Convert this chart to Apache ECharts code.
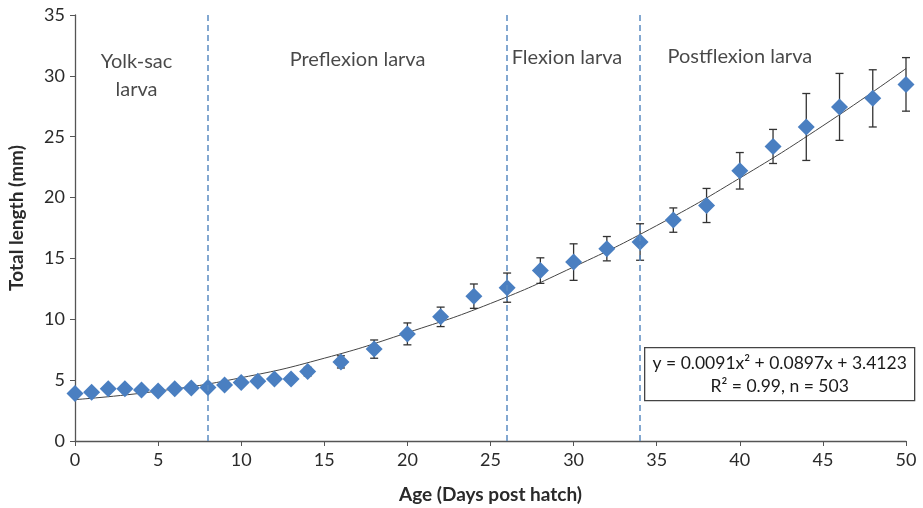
<!DOCTYPE html>
<html>
<head>
<meta charset="utf-8">
<script src="https://cdn.jsdelivr.net/npm/echarts@6/dist/echarts.min.js"></script>
<style>
  html, body { margin: 0; padding: 0; background: #fff; }
  #chart { width: 923px; height: 508px; }
</style>
</head>
<body>
<div id="chart"></div>
<script>
// ages (days post hatch)
const days = [0, 1, 2, 3, 4, 5, 6, 7, 8, 9, 10, 11, 12, 13, 14, 16, 18, 20, 22, 24, 26, 28, 30, 32, 34, 36, 38, 40, 42, 44, 46, 48, 50];
// mean total length (mm)
const lengthMean = [3.9, 4.0, 4.3, 4.3, 4.2, 4.1, 4.3, 4.35, 4.4, 4.6, 4.8, 4.9, 5.1, 5.1, 5.7, 6.5, 7.55, 8.8, 10.2, 11.9, 12.6, 14.0, 14.7, 15.8, 16.35, 18.15, 19.35, 22.2, 24.2, 25.8, 27.45, 28.15, 29.3];
// standard deviation (error bars)
const lengthSD = [0.15, 0.15, 0.15, 0.15, 0.15, 0.15, 0.15, 0.15, 0.2, 0.2, 0.2, 0.2, 0.25, 0.25, 0.35, 0.5, 0.75, 0.9, 0.8, 1.0, 1.2, 1.05, 1.5, 1.0, 1.5, 1.0, 1.4, 1.5, 1.4, 2.75, 2.75, 2.35, 2.2];
// fitted curve
const fitDays = [0, 5, 10, 15, 20, 25, 30, 35, 40, 45, 50];
const fitLength = [3.4, 4.1, 5.2, 6.8, 8.9, 11.3, 14.3, 17.7, 21.6, 25.9, 30.6];
// stage boundaries and labels
const stageBounds = [8, 26, 34];
const stageNames = ['Yolk-sac\nlarva', 'Preflexion larva', 'Flexion larva', 'Postflexion larva'];
const stageLabelX = [3.7, 17, 29.6, 40];
const stageLabelY = [30.0, 31.3, 31.5, 31.6];
const yTicks = [0, 5, 10, 15, 20, 25, 30, 35];
const xTicks = [0, 5, 10, 15, 20, 25, 30, 35, 40, 45, 50];

const FONT = 'Lato';
const chart = echarts.init(document.getElementById('chart'));

const points = days.map((d, i) => [d, lengthMean[i]]);
const errData = days.map((d, i) => [d, lengthMean[i] - lengthSD[i], lengthMean[i] + lengthSD[i]]);
const fitData = fitDays.map((d, i) => [d, fitLength[i]]);
const labelData = stageNames.map((n, i) => ({ value: [stageLabelX[i], stageLabelY[i]], name: n }));

const option = {
  animation: false,
  textStyle: { fontFamily: FONT },
  grid: { left: 75, right: 17, top: 15, bottom: 67, containLabel: false, outerBoundsMode: 'none' },
  xAxis: {
    type: 'value',
    min: xTicks[0], max: xTicks[xTicks.length - 1], interval: 5,
    name: 'Age (Days post hatch)',
    nameLocation: 'middle', nameGap: 44,
    nameTextStyle: { fontFamily: FONT, fontSize: 19, fontWeight: 'bold', color: '#2a2a2a' },
    axisLine: { lineStyle: { color: '#555', width: 1.3 } },
    axisTick: { show: true, length: 5, lineStyle: { color: '#555' } },
    axisLabel: { fontFamily: FONT, fontSize: 18, color: '#2a2a2a', margin: 10 },
    splitLine: { show: false }
  },
  yAxis: {
    type: 'value',
    min: yTicks[0], max: yTicks[yTicks.length - 1], interval: 5,
    name: 'Total length (mm)',
    nameLocation: 'middle', nameGap: 49, nameRotate: 90,
    nameTextStyle: { fontFamily: FONT, fontSize: 19, fontWeight: 'bold', color: '#2a2a2a', padding: [0, 0, 0, 20] },
    axisLine: { show: true, lineStyle: { color: '#555', width: 1.3 } },
    axisTick: { show: true, length: 5, lineStyle: { color: '#555' } },
    axisLabel: { fontFamily: FONT, fontSize: 18, color: '#2a2a2a', margin: 10 },
    splitLine: { show: false }
  },
  series: [
    {
      type: 'line',
      data: fitData,
      smooth: true,
      symbol: 'none',
      lineStyle: { color: '#444', width: 1 },
      z: 2,
      markLine: {
        silent: true,
        symbol: 'none',
        label: { show: false },
        lineStyle: { color: '#5b8cc2', width: 1.5, type: [6, 4] },
        data: stageBounds.map(b => ({ xAxis: b }))
      }
    },
    {
      type: 'custom',
      data: errData,
      z: 3,
      renderItem: function (params, api) {
        const x = api.value(0);
        const lo = api.coord([x, api.value(1)]);
        const hi = api.coord([x, api.value(2)]);
        const cap = 4;
        const style = { stroke: '#333', lineWidth: 1.3 };
        return {
          type: 'group',
          children: [
            { type: 'line', shape: { x1: hi[0], y1: hi[1], x2: lo[0], y2: lo[1] }, style: style },
            { type: 'line', shape: { x1: hi[0] - cap, y1: hi[1], x2: hi[0] + cap, y2: hi[1] }, style: style },
            { type: 'line', shape: { x1: lo[0] - cap, y1: lo[1], x2: lo[0] + cap, y2: lo[1] }, style: style }
          ]
        };
      }
    },
    {
      type: 'scatter',
      data: points,
      symbol: 'diamond',
      symbolSize: [17, 17],
      itemStyle: { color: '#4a7fc1', opacity: 1 },
      z: 4
    },
    {
      type: 'scatter',
      data: labelData,
      symbolSize: 0,
      silent: true,
      label: {
        show: true,
        position: 'inside',
        formatter: p => p.name,
        fontFamily: FONT,
        fontSize: 20,
        color: '#1a1a1a',
        lineHeight: 28,
        align: 'center'
      },
      z: 5
    }
  ],
  graphic: [
    {
      type: 'group',
      left: 644, top: 347,
      children: [
        {
          type: 'rect',
          shape: { x: 0, y: 0, width: 270, height: 53 },
          style: { fill: '#fff', stroke: '#444', lineWidth: 1.3 }
        },
        {
          type: 'text',
          x: 135, y: 4,
          style: {
            text: 'y = 0.0091x² + 0.0897x + 3.4123\nR² = 0.99, n = 503',
            fontFamily: FONT, fontSize: 17.5, lineHeight: 23,
            fill: '#1a1a1a', align: 'center'
          }
        }
      ]
    }
  ]
};

chart.setOption(option);
</script>
</body>
</html>
